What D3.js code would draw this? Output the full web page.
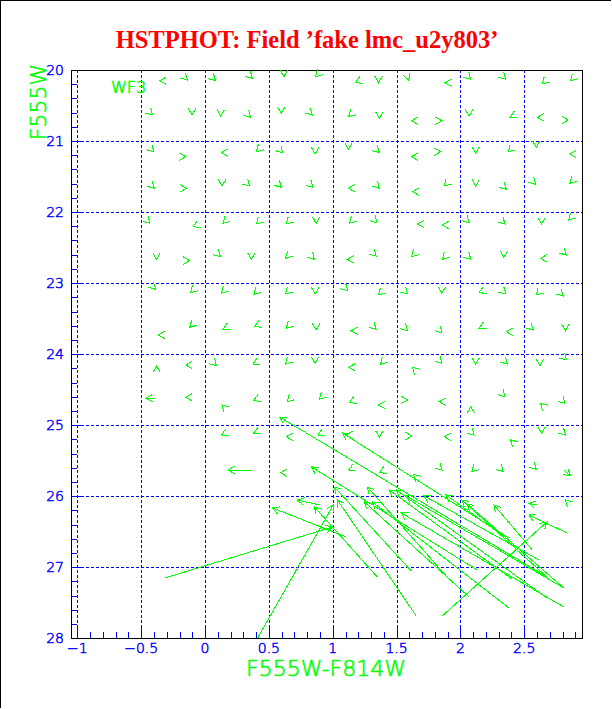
<!DOCTYPE html>
<html lang="en">
<head>
	<meta charset="UTF-8">
	<script src="https://d3js.org/d3.v7.min.js"></script>
	<title>HSTPHOT fake stars</title>
	<style>
		body{ margin:0; background:#fff; }
		.grid{ stroke:#0000ff; stroke-dasharray:3,2; shape-rendering:crispEdges; }
		.tick{ stroke:#0000ff; shape-rendering:crispEdges; }
		.frame{ stroke:#000; fill:none; shape-rendering:crispEdges; }
		.lab{ fill:#0000ff; stroke:#0000ff; stroke-width:0.5; font-family:"DejaVu Sans ExtraLight", "DejaVu Sans", sans-serif; font-weight:200; font-size:14px; }
		.arrow{ stroke:#00ff00; fill:none; stroke-width:1; shape-rendering:crispEdges; }
		.axtitle{ fill:#00ff00; stroke:#00ff00; stroke-width:0.6; font-family:"DejaVu Sans ExtraLight", "DejaVu Sans", sans-serif; font-weight:200; font-size:22px; }
		.title{ fill:#ff0000; font-family:"Liberation Serif", "Times New Roman", serif; font-weight:bold; font-size:24.5px; }
	</style>
</head>
<body>
<script>
	// small arrows: true position (head) and direction of the tiny shift
	const smallX = [
		-0.354,-0.138,0.081,0.370,0.617,0.865,1.177,1.359,1.594,1.880,2.081,2.355,2.641,2.862,
		-0.411,-0.102,0.123,0.357,0.597,0.839,1.125,1.365,1.617,1.855,2.068,2.388,2.602,2.844,
		-0.401,-0.151,0.128,0.402,0.609,0.862,1.123,1.365,1.617,1.847,2.120,2.375,2.594,2.855,
		-0.398,-0.145,0.133,0.349,0.597,0.844,1.123,1.365,1.625,1.873,2.120,2.359,2.589,2.857,
		-0.432,-0.094,0.141,0.402,0.636,0.870,1.130,1.347,1.664,1.859,2.068,2.349,2.636,2.849,
		-0.380,-0.120,0.120,0.363,0.630,0.857,1.113,1.339,1.617,1.859,2.081,2.341,2.628,2.828,
		-0.388,-0.114,0.128,0.383,0.630,0.862,1.117,1.359,1.586,1.855,2.146,2.355,2.594,2.805,
		-0.367,-0.120,0.141,0.388,0.636,0.870,1.144,1.339,1.586,1.855,2.146,2.359,2.570,2.823,
		-0.380,-0.151,0.089,0.375,0.630,0.862,1.125,1.373,1.625,1.855,2.120,2.367,2.623,2.831,
		-0.151,0.133,0.380,0.644,0.896,1.130,1.359,1.586,1.834,2.081,2.349,2.628,2.818,
		0.128,0.380,0.636,0.883,1.105,1.365,1.620,1.873,2.107,2.393,2.636,2.823,
		0.591,1.125,1.365,1.633,1.855,2.089,2.336,2.594,
		2.823
	];
	const smallY = [
		20.151,20.141,20.151,20.117,20.094,20.094,20.179,20.179,20.141,20.179,20.131,20.131,20.197,20.151,
		20.633,20.633,20.648,20.666,20.610,20.633,20.657,20.680,20.714,20.714,20.648,20.666,20.666,20.704,
		21.150,21.220,21.164,21.150,21.164,21.182,21.116,21.164,21.220,21.150,21.173,21.150,21.088,21.182,
		21.665,21.665,21.633,21.633,21.651,21.651,21.665,21.665,21.713,21.633,21.633,21.679,21.609,21.595,
		22.158,22.206,22.158,22.168,22.168,22.158,22.158,22.150,22.168,22.182,22.150,22.168,22.168,22.111,
		22.665,22.684,22.628,22.665,22.651,22.665,22.665,22.618,22.628,22.665,22.665,22.637,22.651,22.604,
		23.087,23.135,23.143,23.157,23.153,23.153,23.107,23.167,23.153,23.143,23.135,23.153,23.167,23.181,
		23.730,23.622,23.650,23.613,23.636,23.660,23.670,23.650,23.670,23.698,23.636,23.684,23.660,23.670,
		24.167,24.153,24.162,24.139,24.139,24.129,24.185,24.143,24.185,24.129,24.143,24.139,24.162,24.082,
		24.607,24.716,24.655,24.669,24.635,24.683,24.716,24.645,24.669,24.740,24.599,24.692,24.692,
		25.138,25.114,25.162,25.138,25.138,25.170,25.152,25.162,25.138,25.208,25.114,25.138,
		25.669,25.631,25.669,25.691,25.631,25.655,25.655,25.621,
		26.053
	];
	const smallDir = [
		"W","SE","SE","SE","S","SW","WSW","S","SSE","W","SE","SE","SW","SW",
		"SE","S","S","SE","S","SE","SW","S","W","E","S","WSW","W","E",
		"SE","E","W","SW","SE","S","S","SE","W","E","S","SW","S","W",
		"SE","E","S","SE","SE","SE","W","SE","W","SW","S","SE","SE","SW",
		"SE","WSW","SW","SW","SW","S","SW","SE","W","W","SE","SE","S","SW",
		"S","E","SE","S","SW","SE","W","SE","SW","SW","SE","S","W","SE",
		"SE","SW","SW","SW","SW","S","SE","SW","SE","S","WSW","SE","SW","SE",
		"W","SW","WSW","WSW","SW","S","W","SE","SE","SE","WSW","W","SE","S",
		"N","W","SE","WSW","SW","S","W","SW","NW","SE","S","SE","S","SE",
		"W","NW","WSW","SW","SW","WSW","W","E","W","N","SE","NW","SE",
		"WSW","WSW","W","WSW","W","S","E","W","SE","NW","S","SE",
		"W","WSW","WSW","NW","SE","SW","SE","SE",
		"NW"
	];
	const dirAngle = {E:0, NE:45, N:90, NW:135, W:180, WSW:205, SW:225, S:270, SSE:290, SE:315};

	// longer arrows: measured (tail) -> input (head)
	const longX0 = [-0.393,0.370,2.810,2.599,2.677,2.380,2.131,2.834,1.857,0.412,-0.315,1.107,1.349,0.896,
		1.654,1.615,1.896,2.068,2.404,2.380,2.677,2.810,2.810,2.615,2.380,2.677,2.810,2.560];
	const longY0 = [24.621,25.631,25.630,26.123,27.137,26.588,27.038,26.517,27.686,27.996,27.151,26.574,27.137,26.123,
		27.686,27.052,27.137,27.418,27.165,27.573,27.432,27.292,27.559,26.897,26.616,27.137,27.292,26.750];
	const longX1 = [-0.463,0.180,2.862,2.537,0.584,1.076,0.834,2.537,2.677,1.005,0.998,0.529,0.857,0.724,
		1.037,1.013,1.271,1.248,1.443,1.310,1.498,1.576,1.537,1.716,1.886,2.013,2.052,2.263];
	const longY1 = [24.621,25.631,25.715,26.099,24.885,25.110,25.588,26.264,26.363,26.123,26.433,26.165,26.151,26.053,
		26.053,25.870,25.870,26.081,25.912,26.081,25.912,25.996,26.236,25.996,25.982,26.053,26.109,26.123];

	const xMajor = [-1, -0.5, 0, 0.5, 1, 1.5, 2, 2.5];
	const xLabels = ["\u22121", "\u22120.5", "0", "0.5", "1", "1.5", "2", "2.5"];
	const yMajor = [20, 21, 22, 23, 24, 25, 26, 27, 28];

	const svg = d3.select("body").append("svg")
		.attr("width", 612)
		.attr("height", 709);

	const x = d3.scaleLinear().domain([-1.05, 2.95]).range([71, 581.7]),
		y = d3.scaleLinear().domain([20, 28]).range([70, 638.3]);
	const pLeft = x.range()[0], pRight = x.range()[1], pTop = y.range()[0], pBottom = y.range()[1];

	// outer frame
	svg.append("path").attr("class", "frame").attr("d", "M0.5,708 L0.5,0.5 L611,0.5");

	svg.append("text")
		.attr("class", "title")
		.attr("x", 307).attr("y", 48)
		.attr("text-anchor", "middle")
		.text("HSTPHOT: Field \u2019fake lmc_u2y803\u2019");

	// grid
	svg.selectAll(".gx").data(xMajor).enter().append("line")
		.attr("class", "grid")
		.attr("x1", d => Math.round(x(d)) + 0.5).attr("x2", d => Math.round(x(d)) + 0.5)
		.attr("y1", pTop).attr("y2", pBottom);
	svg.selectAll(".gy").data(yMajor.slice(1, -1)).enter().append("line")
		.attr("class", "grid")
		.attr("y1", d => Math.round(y(d)) + 0.5).attr("y2", d => Math.round(y(d)) + 0.5)
		.attr("x1", pLeft).attr("x2", pRight);

	// minor ticks
	const xMinor = d3.range(-10, 30).map(i => i / 10);
	svg.selectAll(".mx").data(xMinor).enter().append("line")
		.attr("class", "tick")
		.attr("x1", d => Math.round(x(d)) + 0.5).attr("x2", d => Math.round(x(d)) + 0.5)
		.attr("y1", pBottom).attr("y2", d => pBottom - (xMajor.includes(d) ? 10 : 6));
	const yMinor = d3.range(100, 141).map(i => i / 5);
	svg.selectAll(".my").data(yMinor).enter().append("line")
		.attr("class", "tick")
		.attr("y1", d => Math.round(y(d)) + 0.5).attr("y2", d => Math.round(y(d)) + 0.5)
		.attr("x1", pLeft).attr("x2", d => pLeft + (yMajor.includes(d) ? 10 : 6));

	// frame of the plot
	svg.append("rect").attr("class", "frame")
		.attr("x", Math.round(pLeft) + 0.5).attr("y", Math.round(pTop) + 0.5)
		.attr("width", Math.round(pRight - pLeft)).attr("height", Math.round(pBottom - pTop));

	// tick labels
	svg.selectAll(".xl").data(xMajor).enter().append("text")
		.attr("class", "lab")
		.attr("x", d => x(d)).attr("y", 653)
		.attr("text-anchor", "middle")
		.text((d, i) => xLabels[i]);
	svg.selectAll(".yl").data(yMajor).enter().append("text")
		.attr("class", "lab")
		.attr("x", 64).attr("y", d => y(d) + 5)
		.attr("text-anchor", "end")
		.text(d => d);

	svg.append("text").attr("class", "axtitle")
		.attr("x", 326).attr("y", 676)
		.attr("text-anchor", "middle")
		.text("F555W-F814W");
	svg.append("text").attr("class", "axtitle")
		.attr("transform", "translate(46,102) rotate(-90)")
		.attr("text-anchor", "middle")
		.text("F555W");
	svg.append("text").attr("class", "axtitle")
		.attr("x", 111).attr("y", 93)
		.style("font-size", "16px")
		.text("WF3");

	// arrows
	const HL = 7.5, HA = 30 * Math.PI / 180;
	function arrowPath(tx, ty, hx, hy, ang) {
		const b1 = ang + Math.PI - HA, b2 = ang + Math.PI + HA;
		return "M" + tx + "," + ty + "L" + hx + "," + hy +
			"M" + (hx + HL * Math.cos(b1)) + "," + (hy - HL * Math.sin(b1)) +
			"L" + hx + "," + hy +
			"L" + (hx + HL * Math.cos(b2)) + "," + (hy - HL * Math.sin(b2));
	}

	const plot = svg.append("g");
	plot.selectAll(".sa").data(smallX).enter().append("path")
		.attr("class", "arrow")
		.attr("d", (d, i) => {
			const a = dirAngle[smallDir[i]] * Math.PI / 180;
			const hx = x(d), hy = y(smallY[i]);
			return arrowPath(hx - 1.5 * Math.cos(a), hy + 1.5 * Math.sin(a), hx, hy, a);
		});
	plot.selectAll(".la").data(longX0).enter().append("path")
		.attr("class", "arrow")
		.attr("d", (d, i) => {
			const tx = x(d), ty = y(longY0[i]), hx = x(longX1[i]), hy = y(longY1[i]);
			return arrowPath(tx, ty, hx, hy, Math.atan2(ty - hy, hx - tx));
		});
</script>
</body>
</html>
